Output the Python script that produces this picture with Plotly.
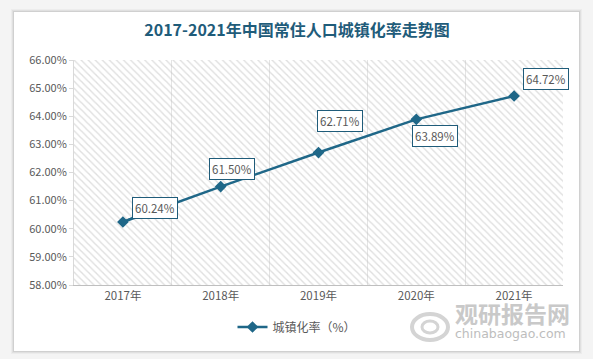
import plotly.graph_objects as go

categories = ["2017年", "2018年", "2019年", "2020年", "2021年"]
rate = [60.24, 61.50, 62.71, 63.89, 64.72]
series_name = "城镇化率（%）"
title_text = "2017-2021年中国常住人口城镇化率走势图"

W, H = 593, 359
L, R, T, B = 74, 30, 60, 74
PW, PH = W - L - R, H - T - B

def px(x):
    return (x - L) / PW

def py(y):
    return (H - B - y) / PH

TEAL = "#1f6788"
TITLE = "#1f5c7a"
GRAY = "#595959"
FONT = "Noto Sans CJK SC, Noto Sans, sans-serif"

fig = go.Figure()

# hatched plot background on base axes
fig.add_trace(go.Scatter(
    x=[0, 1, 1, 0, 0], y=[0, 0, 1, 1, 0], mode="lines", fill="toself",
    fillcolor="rgba(0,0,0,0)", line=dict(width=0),
    fillpattern=dict(shape="\\", size=5, solidity=0.28, fgcolor="#c0c0c0", bgcolor="rgba(0,0,0,0)"),
    hoverinfo="skip", showlegend=False, xaxis="x", yaxis="y"))

fig.add_trace(go.Scatter(
    x=categories, y=rate, mode="lines+markers", name=series_name,
    line=dict(color=TEAL, width=2.5),
    marker=dict(symbol="diamond", size=9, color=TEAL),
    xaxis="x2", yaxis="y2"))

offsets = [(32, -14, True), (11, -18, False), (21, -32, False), (19, 17, False), (32, -17, False)]
for c, v, (ax, ay, lead) in zip(categories, rate, offsets):
    fig.add_annotation(
        x=c, y=v, xref="x2", yref="y2", text=f"{v:.2f}%",
        showarrow=True, ax=ax, ay=ay, arrowhead=0, arrowwidth=2,
        arrowcolor=TEAL if lead else "rgba(0,0,0,0)", standoff=4,
        font=dict(family=FONT, size=11.5, color=GRAY),
        bgcolor="white", bordercolor=TITLE, borderwidth=1, borderpad=2)

shapes = []
# card shadow and card
for i, a in enumerate([0.03, 0.05, 0.07]):
    d = 3 - i
    shapes.append(dict(type="rect", xref="paper", yref="paper",
                       x0=px(14 - d), x1=px(579 + d), y0=py(351 + d), y1=py(12 - d),
                       fillcolor=f"rgba(0,0,0,{a})", line=dict(width=0), layer="below"))
shapes.append(dict(type="rect", xref="paper", yref="paper",
                   x0=px(14), x1=px(579), y0=py(351), y1=py(12),
                   fillcolor="white", line=dict(width=0), layer="below"))
# watermark logo (approximate swirl)
shapes.append(dict(type="circle", xref="paper", yref="paper",
                   x0=px(412), x1=px(448), y0=py(340), y1=py(314),
                   line=dict(color="#d4d4d4", width=4), layer="above"))
shapes.append(dict(type="circle", xref="paper", yref="paper",
                   x0=px(422), x1=px(438), y0=py(333), y1=py(321),
                   line=dict(color="#d4d4d4", width=3), layer="above"))

fig.update_layout(
    width=W, height=H,
    margin=dict(l=L, r=R, t=T, b=B),
    paper_bgcolor="#f4f4f4", plot_bgcolor="rgba(0,0,0,0)",
    font=dict(family=FONT, size=11, color=GRAY),
    title=dict(text=f"<b>{title_text}</b>", x=px(297), xref="paper", xanchor="center",
               y=1 - 30 / H, yanchor="middle", yref="container",
               font=dict(family=FONT, size=16, color=TITLE)),
    xaxis=dict(range=[0, 1], visible=False, fixedrange=True),
    yaxis=dict(range=[0, 1], visible=False, fixedrange=True),
    xaxis2=dict(overlaying="x", anchor="y2", type="category", tickson="boundaries",
                showgrid=True, gridcolor="#e4e4e4", gridwidth=1,
                showline=True, linecolor="#bfbfbf", ticks="", range=[-0.5, 4.5],
                tickfont=dict(family=FONT, size=11.5, color=GRAY)),
    yaxis2=dict(overlaying="y", anchor="x2", side="left", range=[58, 66], dtick=1,
                tickformat=".2f", ticksuffix="%", showgrid=False,
                showline=True, linecolor="#d9d9d9", ticks="outside", ticklen=4,
                tickcolor="#d9d9d9", zeroline=False,
                tickfont=dict(family=FONT, size=11, color=GRAY)),
    legend=dict(orientation="h", x=px(297), xanchor="center", y=py(327), yanchor="middle",
                bgcolor="rgba(0,0,0,0)", font=dict(family=FONT, size=12, color=GRAY)),
    showlegend=True,
    shapes=shapes,
)

fig.add_annotation(xref="paper", yref="paper", x=px(512), y=py(313), xanchor="center",
                   yanchor="middle", text="<b>观研报告网</b>", showarrow=False,
                   font=dict(family=FONT, size=23, color="#c9c9c9"))
fig.add_annotation(xref="paper", yref="paper", x=px(510), y=py(333), xanchor="center",
                   yanchor="middle", text="chinabaogao.com", showarrow=False,
                   font=dict(family="DejaVu Sans", size=12.5, color="#bdbdbd"))

fig.write_html("out.html", config={"displayModeBar": False},
               post_script="document.body.style.margin='0';document.body.style.overflow='hidden';")
